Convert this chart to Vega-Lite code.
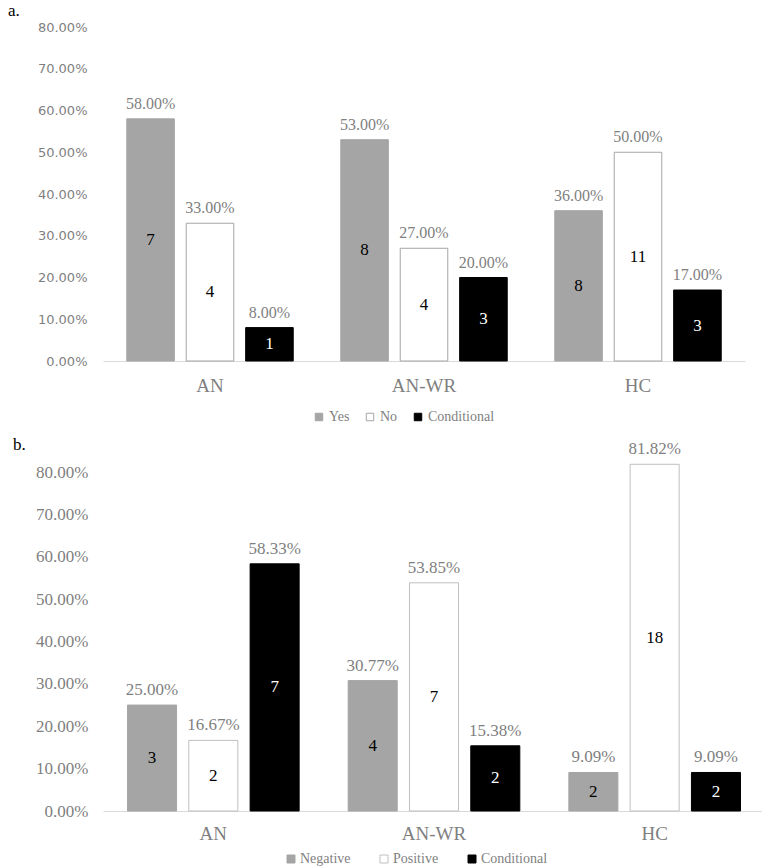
{
  "$schema": "https://vega.github.io/schema/vega-lite/v6.json",
  "padding": {"left": 4, "top": 2, "right": 0, "bottom": 0},
  "background": "white",
  "spacing": 12,
  "config": {
    "view": {"stroke": null},
    "axisX": {"domain": true, "domainColor": "#d9d9d9", "domainWidth": 1, "ticks": false, "tickSize": 0, "grid": false, "labelFont": "Liberation Serif", "labelFontSize": 19, "labelColor": "#7f7f7f", "labelPadding": 13, "labelAngle": 0, "title": null},
    "axisY": {"domain": false, "ticks": false, "tickSize": 0, "grid": false, "labelColor": "#7f7f7f", "title": null},
    "title": {"font": "Liberation Serif", "fontSize": 17, "fontWeight": "normal", "color": "#000000", "anchor": "start", "frame": "bounds", "offset": 1}
  },
  "resolve": {
    "scale": {"x": "independent", "xOffset": "independent", "y": "independent", "fill": "independent", "stroke": "independent", "color": "independent"},
    "legend": {"fill": "independent", "stroke": "independent"}
  },
  "datasets": {
    "a": [
      {"group": "AN", "response": "Yes", "pct": 0.58, "count": 7},
      {"group": "AN", "response": "No", "pct": 0.33, "count": 4},
      {"group": "AN", "response": "Conditional", "pct": 0.08, "count": 1},
      {"group": "AN-WR", "response": "Yes", "pct": 0.53, "count": 8},
      {"group": "AN-WR", "response": "No", "pct": 0.27, "count": 4},
      {"group": "AN-WR", "response": "Conditional", "pct": 0.20, "count": 3},
      {"group": "HC", "response": "Yes", "pct": 0.36, "count": 8},
      {"group": "HC", "response": "No", "pct": 0.50, "count": 11},
      {"group": "HC", "response": "Conditional", "pct": 0.17, "count": 3}
    ],
    "b": [
      {"group": "AN", "response": "Negative", "pct": 0.25, "count": 3},
      {"group": "AN", "response": "Positive", "pct": 0.1667, "count": 2},
      {"group": "AN", "response": "Conditional", "pct": 0.5833, "count": 7},
      {"group": "AN-WR", "response": "Negative", "pct": 0.3077, "count": 4},
      {"group": "AN-WR", "response": "Positive", "pct": 0.5385, "count": 7},
      {"group": "AN-WR", "response": "Conditional", "pct": 0.1538, "count": 2},
      {"group": "HC", "response": "Negative", "pct": 0.0909, "count": 2},
      {"group": "HC", "response": "Positive", "pct": 0.8182, "count": 18},
      {"group": "HC", "response": "Conditional", "pct": 0.0909, "count": 2}
    ]
  },
  "vconcat": [
    {
      "title": {"text": "a.", "dx": 4},
      "width": 642,
      "height": 334,
      "data": {"name": "a"},
      "encoding": {
        "x": {"field": "group", "type": "nominal", "sort": ["AN", "AN-WR", "HC"], "scale": {"paddingInner": 0, "paddingOuter": 0}, "axis": {"labelPadding": 15}},
        "xOffset": {"field": "response", "type": "nominal", "sort": ["Yes", "No", "Conditional"], "scale": {"domain": ["Yes", "No", "Conditional"], "paddingInner": 0.2, "paddingOuter": 0.4}}
      },
      "layer": [
        {
          "mark": {"type": "bar", "strokeWidth": 1},
          "encoding": {
            "y": {"field": "pct", "type": "quantitative", "scale": {"domain": [0, 0.8], "nice": false, "zero": true}, "axis": {"values": [0, 0.1, 0.2, 0.3, 0.4, 0.5, 0.6, 0.7, 0.8], "format": ".2%", "labelFont": "DejaVu Sans", "labelFontSize": 13, "labelPadding": 16, "minExtent": 99, "maxExtent": 99}},
            "fill": {"field": "response", "type": "nominal", "sort": ["Yes", "No", "Conditional"], "scale": {"domain": ["Yes", "No", "Conditional"], "range": ["#a5a5a5", "#ffffff", "#000000"]}, "legend": {"orient": "none", "legendX": 209, "legendY": 383, "direction": "horizontal", "title": null, "symbolType": "square", "symbolSize": 56, "symbolStrokeWidth": 1, "labelFont": "Liberation Serif", "labelFontSize": 14, "labelColor": "#7f7f7f", "labelOffset": 3, "columnPadding": 13}},
            "stroke": {"field": "response", "type": "nominal", "sort": ["Yes", "No", "Conditional"], "scale": {"domain": ["Yes", "No", "Conditional"], "range": ["#a5a5a5", "#a5a5a5", "#000000"]}, "legend": {"orient": "none", "legendX": 209, "legendY": 383, "direction": "horizontal", "title": null, "symbolType": "square", "symbolSize": 56, "symbolStrokeWidth": 1, "labelFont": "Liberation Serif", "labelFontSize": 14, "labelColor": "#7f7f7f", "labelOffset": 3, "columnPadding": 13}}
          }
        },
        {
          "mark": {"type": "text", "baseline": "bottom", "dy": -7, "font": "Liberation Serif", "fontSize": 16, "color": "#7f7f7f"},
          "encoding": {
            "y": {"field": "pct", "type": "quantitative", "scale": {"domain": [0, 0.8], "nice": false}, "axis": null},
            "text": {"field": "pct", "type": "quantitative", "format": ".2%"}
          }
        },
        {
          "mark": {"type": "text", "baseline": "middle", "font": "Liberation Serif", "fontSize": 17},
          "encoding": {
            "y": {"field": "pct", "type": "quantitative", "scale": {"domain": [0, 1.6], "nice": false}, "axis": null},
            "text": {"field": "count", "type": "quantitative"},
            "color": {"condition": {"test": "datum.response === 'Conditional'", "value": "#ffffff"}, "value": "#000000"}
          }
        }
      ],
      "resolve": {"scale": {"y": "independent"}}
    },
    {
      "title": {"text": "b.", "dx": 4, "offset": -14},
      "width": 662,
      "height": 339,
      "data": {"name": "b"},
      "encoding": {
        "x": {"field": "group", "type": "nominal", "sort": ["AN", "AN-WR", "HC"], "scale": {"paddingInner": 0, "paddingOuter": 0}},
        "xOffset": {"field": "response", "type": "nominal", "sort": ["Negative", "Positive", "Conditional"], "scale": {"domain": ["Negative", "Positive", "Conditional"], "paddingInner": 0.2, "paddingOuter": 0.4}}
      },
      "layer": [
        {
          "mark": {"type": "bar", "strokeWidth": 1},
          "encoding": {
            "y": {"field": "pct", "type": "quantitative", "scale": {"domain": [0, 0.8], "nice": false, "zero": true}, "axis": {"values": [0, 0.1, 0.2, 0.3, 0.4, 0.5, 0.6, 0.7, 0.8], "format": ".2%", "labelFont": "Liberation Serif", "labelFontSize": 17, "labelPadding": 15, "minExtent": 94, "maxExtent": 94}},
            "fill": {"field": "response", "type": "nominal", "sort": ["Negative", "Positive", "Conditional"], "scale": {"domain": ["Negative", "Positive", "Conditional"], "range": ["#a5a5a5", "#ffffff", "#000000"]}, "legend": {"orient": "none", "legendX": 181, "legendY": 380, "direction": "horizontal", "title": null, "symbolType": "square", "symbolSize": 64, "symbolStrokeWidth": 1, "labelFont": "Liberation Serif", "labelFontSize": 14, "labelColor": "#7f7f7f", "labelOffset": 2, "columnPadding": 26}},
            "stroke": {"field": "response", "type": "nominal", "sort": ["Negative", "Positive", "Conditional"], "scale": {"domain": ["Negative", "Positive", "Conditional"], "range": ["#a5a5a5", "#bfbfbf", "#000000"]}, "legend": {"orient": "none", "legendX": 181, "legendY": 380, "direction": "horizontal", "title": null, "symbolType": "square", "symbolSize": 64, "symbolStrokeWidth": 1, "labelFont": "Liberation Serif", "labelFontSize": 14, "labelColor": "#7f7f7f", "labelOffset": 2, "columnPadding": 26}}
          }
        },
        {
          "mark": {"type": "text", "baseline": "bottom", "dy": -6, "font": "Liberation Serif", "fontSize": 17, "color": "#7f7f7f"},
          "encoding": {
            "y": {"field": "pct", "type": "quantitative", "scale": {"domain": [0, 0.8], "nice": false}, "axis": null},
            "text": {"field": "pct", "type": "quantitative", "format": ".2%"}
          }
        },
        {
          "mark": {"type": "text", "baseline": "middle", "font": "Liberation Serif", "fontSize": 17},
          "encoding": {
            "y": {"field": "pct", "type": "quantitative", "scale": {"domain": [0, 1.6], "nice": false}, "axis": null},
            "text": {"field": "count", "type": "quantitative"},
            "color": {"condition": {"test": "datum.response === 'Conditional'", "value": "#ffffff"}, "value": "#000000"}
          }
        }
      ],
      "resolve": {"scale": {"y": "independent"}}
    }
  ]
}
